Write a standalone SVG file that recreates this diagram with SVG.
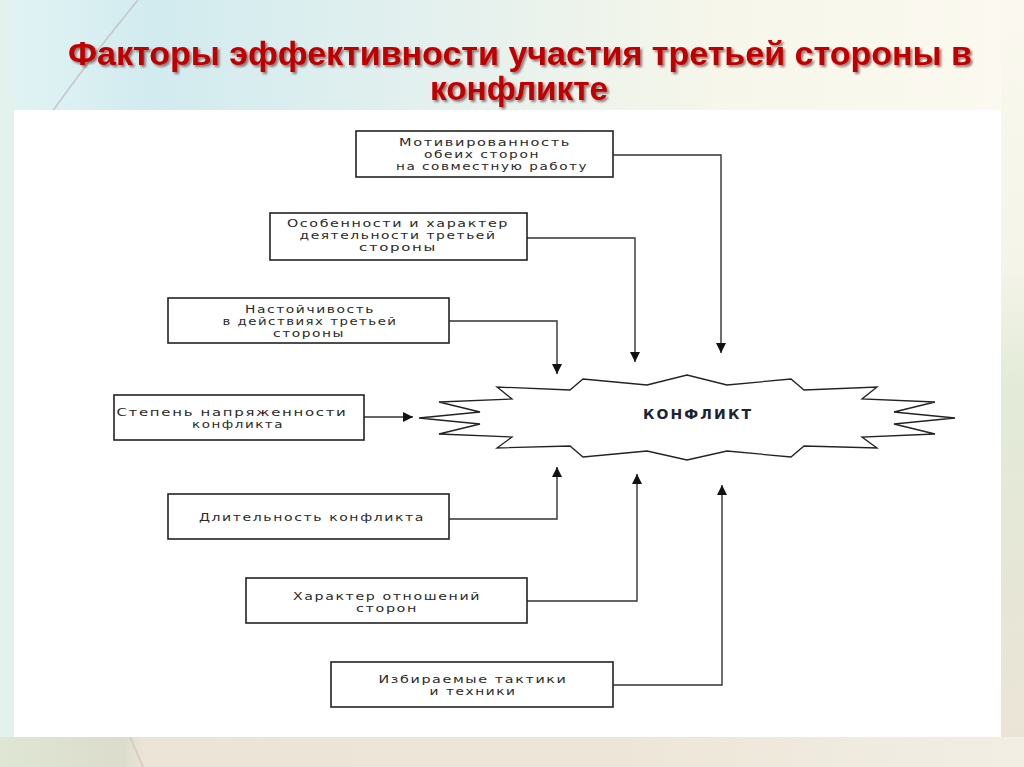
<svg xmlns="http://www.w3.org/2000/svg" width="1024" height="767" viewBox="0 0 1024 767">
<defs>
<linearGradient id="bgTop" x1="0" y1="0" x2="1" y2="0">
<stop offset="0" stop-color="#e2f4f4"/>
<stop offset="0.15" stop-color="#d2ebef"/>
<stop offset="0.4" stop-color="#e2f0ee"/>
<stop offset="0.7" stop-color="#f6f6ea"/>
<stop offset="1" stop-color="#fcfaf0"/>
</linearGradient>
<linearGradient id="rightStrip" x1="0" y1="0" x2="0" y2="1">
<stop offset="0" stop-color="#fbf9ef"/>
<stop offset="0.35" stop-color="#f4f4e8"/>
<stop offset="0.5" stop-color="#e3ebd8"/>
<stop offset="0.75" stop-color="#e6e6d6"/>
<stop offset="1" stop-color="#ece4d6"/>
</linearGradient>
<linearGradient id="bottomBand" x1="0" y1="0" x2="1" y2="0">
<stop offset="0" stop-color="#dfe6d4"/>
<stop offset="0.12" stop-color="#dcdccc"/>
<stop offset="0.14" stop-color="#ece4d6"/>
<stop offset="0.6" stop-color="#ede6d8"/>
<stop offset="1" stop-color="#f2eee4"/>
</linearGradient>
<filter id="shadow" x="-5%" y="-20%" width="110%" height="150%">
<feDropShadow dx="2" dy="2" stdDeviation="1.2" flood-color="#3a1010" flood-opacity="0.55"/>
</filter>
<marker id="arrow" markerUnits="userSpaceOnUse" markerWidth="11" markerHeight="11" refX="10" refY="5" orient="auto">
<path d="M0,0 L10,5 L0,10 z" fill="#111"/>
</marker>
<style>
.box{fill:#ffffff;stroke:#222;stroke-width:1.6}
.lbl{font-family:"DejaVu Sans","Liberation Sans",sans-serif;font-size:10.5px;letter-spacing:1.2px;fill:#2a2a2a;text-anchor:middle}
.conn{fill:none;stroke:#333;stroke-width:1.4}
.title{font-family:"Liberation Sans",Arial,sans-serif;font-weight:bold;font-size:33px;fill:#c00000;text-anchor:middle}
.core{font-family:"DejaVu Sans","Liberation Sans",sans-serif;font-weight:bold;font-size:14px;fill:#1c2433;text-anchor:middle}
</style>
</defs>

<g id="background">
<rect x="0" y="0" width="1024" height="767" fill="url(#bgTop)"/>
<rect x="0" y="0" width="14" height="767" fill="#e4f2ee"/>
<rect x="1001" y="0" width="23" height="767" fill="url(#rightStrip)"/>
<rect x="0" y="737" width="1024" height="30" fill="url(#bottomBand)"/>
<path d="M130,737 L143,767" stroke="#d6cfc0" stroke-width="2" fill="none"/>
<path d="M138,0 Q95,52 52,112" stroke="#c4c8c8" stroke-width="1.6" fill="none"/>
<rect x="14" y="110" width="987" height="627" fill="#ffffff"/>
</g>

<g id="title" filter="url(#shadow)">
<text class="title" x="520" y="65" textLength="904" lengthAdjust="spacingAndGlyphs">Факторы эффективности участия третьей стороны в</text>
<text class="title" x="519" y="100" textLength="178" lengthAdjust="spacingAndGlyphs">конфликте</text>
</g>

<g id="connectors">
<polyline class="conn" points="613,155 721,155 721,353" marker-end="url(#arrow)"/>
<polyline class="conn" points="527,238 635,238 635,362" marker-end="url(#arrow)"/>
<polyline class="conn" points="449,321 557,321 557,374" marker-end="url(#arrow)"/>
<polyline class="conn" points="364,417 413,417" marker-end="url(#arrow)"/>
<polyline class="conn" points="449,519 557,519 557,467" marker-end="url(#arrow)"/>
<polyline class="conn" points="527,601 637,601 637,474" marker-end="url(#arrow)"/>
<polyline class="conn" points="613,685 722,685 722,485" marker-end="url(#arrow)"/>
</g>

<g id="conflict">
<polygon points="419,418 480,412 439,402 512,399 497,387 570,390 583,379 647,385 687,375 727,385 791,379 804,390 877,387 862,399 935,402 894,412 955,418 894,424 935,434 862,437 877,448 804,446 791,457 727,451 687,460 647,451 583,457 570,446 497,448 512,437 439,434 480,424" fill="#ffffff" stroke="#222" stroke-width="1.3" stroke-linejoin="miter"/>
<text class="core" x="697" y="419" textLength="108" lengthAdjust="spacing">КОНФЛИКТ</text>
</g>

<g id="node-motivation">
<rect class="box" x="356" y="131" width="257" height="46"/>
<text class="lbl" x="485" y="146" textLength="172" lengthAdjust="spacingAndGlyphs">Мотивированность</text>
<text class="lbl" x="482" y="158" textLength="116" lengthAdjust="spacingAndGlyphs">обеих сторон</text>
<text class="lbl" x="492" y="170" textLength="192" lengthAdjust="spacingAndGlyphs">на совместную работу</text>
</g>

<g id="node-features">
<rect class="box" x="270" y="213" width="257" height="47"/>
<text class="lbl" x="398" y="227" textLength="222" lengthAdjust="spacingAndGlyphs">Особенности и характер</text>
<text class="lbl" x="398" y="239" textLength="197" lengthAdjust="spacingAndGlyphs">деятельности третьей</text>
<text class="lbl" x="398" y="251" textLength="78" lengthAdjust="spacingAndGlyphs">стороны</text>
</g>

<g id="node-persistence">
<rect class="box" x="168" y="298" width="281" height="45"/>
<text class="lbl" x="310" y="313" textLength="130" lengthAdjust="spacingAndGlyphs">Настойчивость</text>
<text class="lbl" x="310" y="325" textLength="175" lengthAdjust="spacingAndGlyphs">в действиях третьей</text>
<text class="lbl" x="309" y="337" textLength="72" lengthAdjust="spacingAndGlyphs">стороны</text>
</g>

<g id="node-tension">
<rect class="box" x="114" y="395" width="250" height="45"/>
<text class="lbl" x="232" y="416" textLength="231" lengthAdjust="spacingAndGlyphs">Степень напряженности</text>
<text class="lbl" x="238" y="428" textLength="92" lengthAdjust="spacingAndGlyphs">конфликта</text>
</g>

<g id="node-duration">
<rect class="box" x="168" y="494" width="281" height="45"/>
<text class="lbl" x="312" y="521" textLength="226" lengthAdjust="spacingAndGlyphs">Длительность конфликта</text>
</g>

<g id="node-relations">
<rect class="box" x="246" y="578" width="281" height="45"/>
<text class="lbl" x="387" y="600" textLength="188" lengthAdjust="spacingAndGlyphs">Характер отношений</text>
<text class="lbl" x="387" y="612" textLength="62" lengthAdjust="spacingAndGlyphs">сторон</text>
</g>

<g id="node-tactics">
<rect class="box" x="331" y="662" width="282" height="45"/>
<text class="lbl" x="473" y="683" textLength="189" lengthAdjust="spacingAndGlyphs">Избираемые тактики</text>
<text class="lbl" x="473" y="695" textLength="87" lengthAdjust="spacingAndGlyphs">и техники</text>
</g>
</svg>
